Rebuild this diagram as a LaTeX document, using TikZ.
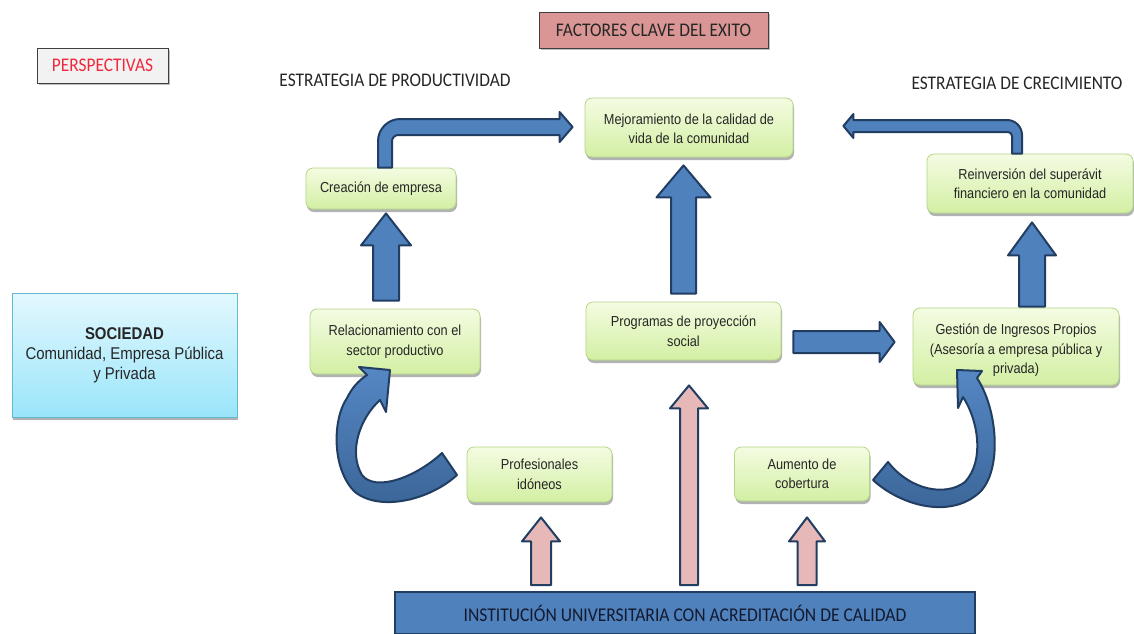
\documentclass[tikz,border=0pt]{standalone}
\usepackage{fontspec}
\setmainfont{Liberation Sans}
\newfontfamily\nf{Liberation Sans}[FakeStretch=0.88]
\newfontfamily\cf{Carlito}[FakeStretch=0.9]
\usetikzlibrary{calc,shadows}
\definecolor{arrowblue}{HTML}{4F81BD}
\definecolor{arrowborder}{HTML}{213E62}
\definecolor{pinkfill}{HTML}{E6B9B8}
\definecolor{gtop}{HTML}{F4FCE2}
\definecolor{gbot}{HTML}{D3EFA3}
\definecolor{gborder}{HTML}{B2D786}
\definecolor{stop}{HTML}{E3F8FE}
\definecolor{sbot}{HTML}{9AE5FA}
\definecolor{sborder}{HTML}{63B8D3}
\definecolor{factfill}{HTML}{D99694}
\definecolor{perspfill}{HTML}{F2F2F2}
\definecolor{boxborder}{HTML}{3F3F3F}
\definecolor{ntext}{HTML}{262626}
\definecolor{perspred}{HTML}{F0283C}
\definecolor{ctop}{HTML}{5587C4}
\definecolor{cbot}{HTML}{3A6496}
\definecolor{insttext}{HTML}{141A2E}
% vertical up block arrow: from, to, xc, shaft half, head half, head len, bottom gap, top gap, style
\newcommand\vup[9]{%
 \draw[#9] let \p1=(#1.north), \p2=(#2.south) in
 ({#3pt-#4pt},{\y1+#7pt}) -- ({#3pt-#4pt},{\y2-#8pt-#6pt}) -- ({#3pt-#5pt},{\y2-#8pt-#6pt})
 -- ({#3pt},{\y2-#8pt}) -- ({#3pt+#5pt},{\y2-#8pt-#6pt}) -- ({#3pt+#4pt},{\y2-#8pt-#6pt})
 -- ({#3pt+#4pt},{\y1+#7pt}) -- cycle;}
\tikzset{
 gbox/.style={draw=gborder, line width=0.8pt, rounded corners=7pt, top color=gtop, bottom color=gbot,
   drop shadow={shadow xshift=1pt, shadow yshift=-3pt, opacity=0.3, fill=black},
   align=center, font=\nf\fontsize{14.5}{19.5}\selectfont, text=ntext, inner sep=0pt},
 hd/.style={font=\cf\fontsize{19.3}{22}\selectfont, text=ntext, inner sep=0pt},
 labbox/.style={draw=boxborder, line width=1pt, font=\cf\fontsize{19.3}{22}\selectfont, inner sep=0pt,
   drop shadow={shadow xshift=1.5pt, shadow yshift=-1.5pt, opacity=0.25, fill=black}},
 blk/.style={fill=arrowblue, draw=arrowborder, line width=2pt, line join=round},
 pnk/.style={fill=pinkfill, draw=arrowborder, line width=2pt, line join=round},
 cblk/.style={draw=arrowborder, line width=2pt, line join=round, top color=ctop, bottom color=cbot},
}
\begin{document}
\begin{tikzpicture}[x=1pt,y=-1pt]
\useasboundingbox (0,0) rectangle (1134,633);
\fill[white] (0,0) rectangle (1134,633);

% title boxes
\node[labbox, fill=perspfill, text=perspred, minimum width=131pt, minimum height=35pt] (persp) at (102.5,65.5) {PERSPECTIVAS};
\node[labbox, fill=factfill, text=ntext, minimum width=229pt, minimum height=36pt] (fact) at (653.5,30) {FACTORES CLAVE DEL EXITO};
\node[hd] (prodh) at (395,80) {ESTRATEGIA DE PRODUCTIVIDAD};
\node[hd] (crech) at (1017,83) {ESTRATEGIA DE CRECIMIENTO};

% society box
\node[draw=sborder, line width=1pt, top color=stop, bottom color=sbot,
   drop shadow={shadow xshift=1pt, shadow yshift=-3pt, opacity=0.3, fill=black},
   minimum width=225pt, minimum height=124pt, align=center, inner sep=0pt, text=ntext,
   font=\nf\fontsize{17}{20}\selectfont] (soc) at (124.5,355)
   {{\bfseries SOCIEDAD}\\Comunidad, Empresa Pública\\y Privada};

% green nodes
\node[gbox, minimum width=208pt, minimum height=59pt] (mej) at (689,127.5) {\rule{0pt}{13pt}Mejoramiento de la calidad de\\vida de la comunidad};
\node[gbox, minimum width=150pt, minimum height=41pt] (crea) at (381,188.5) {Creación de empresa};
\node[gbox, minimum width=206pt, minimum height=59pt] (rein) at (1030,183.5) {Reinversión del superávit\\financiero en la comunidad};
\node[gbox, minimum width=170pt, minimum height=65pt] (rel) at (395,341.5) {Relacionamiento con el\\sector productivo};
\node[gbox, minimum width=195pt, minimum height=58pt] (prog) at (683.5,331) {Programas de proyección\\social};
\node[gbox, minimum width=206pt, minimum height=77pt] (gest) at (1016,346.5) {\rule{0pt}{18.6pt}Gestión de Ingresos Propios\\(Asesoría a empresa pública y\\privada)};
\node[gbox, minimum width=145pt, minimum height=55pt] (prof) at (539.5,474.5) {Profesionales\\idóneos};
\node[gbox, minimum width=135pt, minimum height=54pt] (aum) at (802,474) {Aumento de\\cobertura};

% institution bar
\node[fill=arrowblue, draw=arrowborder, line width=2pt, minimum width=580pt, minimum height=42pt, inner sep=0pt,
   text=insttext, font=\cf\fontsize{19.5}{22}\selectfont] (inst) at (685,613) {INSTITUCIÓN UNIVERSITARIA CON ACREDITACIÓN DE CALIDAD};

% straight up block arrows
\vup{rel}{crea}{386}{13}{25}{32}{8}{4}{blk}
\vup{prog}{mej}{683.5}{12.5}{27}{32}{8}{8}{blk}
\vup{gest}{rein}{1032}{13}{24}{33}{1}{9}{blk}
\vup{inst}{prof}{541}{10}{19}{24}{6}{15}{pnk}
\vup{inst}{prog}{689}{9}{19}{23}{6}{25}{pnk}
\vup{inst}{aum}{807}{9.5}{18}{24}{6}{16}{pnk}

% right arrow programas -> gestion
\draw[blk] let \p1=(prog.east), \p2=(gest.west) in
 ({\x1+12pt},-331pt) -- ({\x2-33pt},-331pt) -- ({\x2-33pt},-322pt) -- ({\x2-18pt},-342pt)
 -- ({\x2-33pt},-362pt) -- ({\x2-33pt},-353pt) -- ({\x1+12pt},-353pt) -- cycle;

% bent arrow creacion -> mejoramiento
\draw[blk] let \p1=(crea.north), \p2=(mej.west) in
 (378pt,{\y1}) -- (378pt,-141pt) .. controls (378pt,-129pt) and (388pt,-119pt) .. (400pt,-119pt)
 -- ({\x2-25pt},-119pt) -- ({\x2-25pt},-112pt) -- ({\x2-12pt},-127pt) -- ({\x2-25pt},-142pt)
 -- ({\x2-25pt},-135pt) -- (398pt,-135pt) .. controls (395pt,-135pt) and (392pt,-138pt) .. (392pt,-141pt)
 -- (392pt,{\y1}) -- cycle;

% bent arrow reinversion -> mejoramiento
\draw[blk] let \p1=(rein.north), \p2=(mej.east) in
 (1022pt,{\y1}) -- (1022pt,-135pt) .. controls (1022pt,-126.7pt) and (1015.3pt,-120pt) .. (1007pt,-120pt)
 -- ({\x2+60pt},-120pt) -- ({\x2+60pt},-114pt) -- ({\x2+50pt},-126pt) -- ({\x2+60pt},-138pt)
 -- ({\x2+60pt},-132pt) -- (1008pt,-132pt) .. controls (1010.2pt,-132pt) and (1012pt,-133.8pt) .. (1012pt,-136pt)
 -- (1012pt,{\y1}) -- cycle;

% curved arrow profesionales -> relacionamiento
\draw[cblk] (457,475) .. controls (430,500) and (380,512) .. (355,492)
 .. controls (332,470) and (332,420) .. (347,398) .. controls (352,388) and (358,381) .. (367,375)
 -- (359,367) -- (390,370) -- (386,412) -- (380,400)
 .. controls (360,418) and (348,452) .. (362,475) .. controls (375,492) and (415,478) .. (442,453) -- cycle;

% curved arrow aumento -> gestion
\draw[cblk] (873,480) .. controls (900,505) and (950,520) .. (980,492)
 .. controls (1002,470) and (998,410) .. (977,378)
 -- (982,371) -- (957,370) -- (958,408) -- (963,397)
 .. controls (978,420) and (985,460) .. (965,482) .. controls (945,497) and (910,490) .. (888,462) -- cycle;
\end{tikzpicture}
\end{document}
